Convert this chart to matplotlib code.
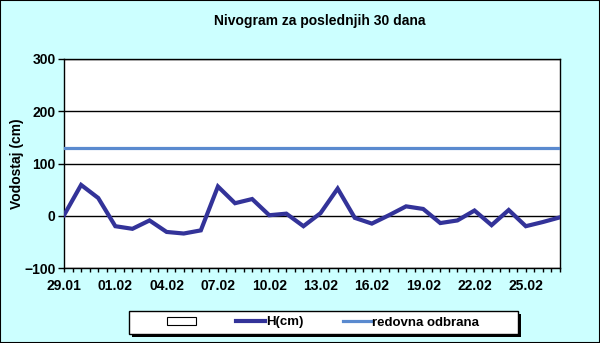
import matplotlib
matplotlib.use("Agg")
import matplotlib.pyplot as plt
from matplotlib.patches import Patch, Rectangle
from matplotlib.lines import Line2D
from matplotlib.ticker import MultipleLocator

plt.rcParams['font.family'] = ['Liberation Sans', 'DejaVu Sans']
plt.rcParams['font.weight'] = 'bold'

# dnevni vodostaj od 29.01 do 27.02
dani = ['29.01', '30.01', '31.01', '01.02', '02.02', '03.02', '04.02', '05.02', '06.02', '07.02',
        '08.02', '09.02', '10.02', '11.02', '12.02', '13.02', '14.02', '15.02', '16.02', '17.02',
        '18.02', '19.02', '20.02', '21.02', '22.02', '23.02', '24.02', '25.02', '26.02', '27.02']
h_cm = [1, 59, 34, -20, -25, -9, -31, -34, -28, 56,
        24, 32, 1, 4, -20, 5, 52, -4, -15, 1,
        18, 13, -14, -9, 10, -18, 11, -20, -12, -3]
redovna = 130

W, H = 600, 343
bg = '#CCFFFF'
fig = plt.figure(figsize=(W / 100, H / 100), dpi=100, facecolor=bg)
ax = fig.add_axes([64/W, 1-268/H, 496/W, 209/H])
ax.set_facecolor('white')

x = list(range(len(dani)))
ax.plot(x, h_cm, color='#333399', lw=3, solid_joinstyle='miter', zorder=3)
ax.plot([x[0], x[-1]], [redovna, redovna], color='#5A8ACF', lw=2.3, zorder=3)

ax.set_xlim(0, len(dani) - 1)
ax.set_ylim(-100, 300)
ax.set_yticks([-100, 0, 100, 200, 300])
ax.yaxis.grid(True, color='black', lw=1)
ax.set_axisbelow(True)

ax.set_xticks(x[::3])
ax.set_xticklabels(dani[::3])
ax.xaxis.set_minor_locator(MultipleLocator(0.5))
ax.tick_params(axis='x', which='both', direction='out', length=3, width=1, pad=5)
ax.tick_params(axis='y', direction='out', length=4, width=1, pad=2)
ax.tick_params(labelsize=10)
for s in ax.spines.values():
    s.set_color('black')
    s.set_linewidth(1)

ax.set_ylabel('Vodostaj (cm)', fontsize=10, fontweight='bold', labelpad=0)
fig.text(320/W, 1-21/H, 'Nivogram za poslednjih 30 dana', ha='center', va='center',
         fontsize=10, fontweight='bold')

# okvir legende sa senkom
fig.patches.append(Rectangle((132/W, 1-337/H), 389/W, 23/H, transform=fig.transFigure,
                             facecolor='black', edgecolor='none'))
fig.patches.append(Rectangle((129/W, 1-334/H), 389/W, 23/H, transform=fig.transFigure,
                             facecolor='white', edgecolor='black', lw=1))

handles = [Patch(facecolor='white', edgecolor='black', lw=0.8),
           Line2D([], [], color='#333399', lw=3),
           Line2D([], [], color='#5A8ACF', lw=2.3)]
leg = fig.legend(handles, ['', 'H(cm)', 'redovna odbrana'], ncol=3, loc='center',
                 bbox_to_anchor=(323/W, 1-322.5/H), fontsize=9.5, frameon=False,
                 handlelength=2.2, handleheight=0.5, handletextpad=0.05, columnspacing=3.0,
                 borderpad=0.3, borderaxespad=0)

fig.patches.append(Rectangle((0, 0), 1, 1, transform=fig.transFigure, fill=False,
                             edgecolor='black', lw=1.5))

fig.savefig('out.png', dpi=100, facecolor=bg)
